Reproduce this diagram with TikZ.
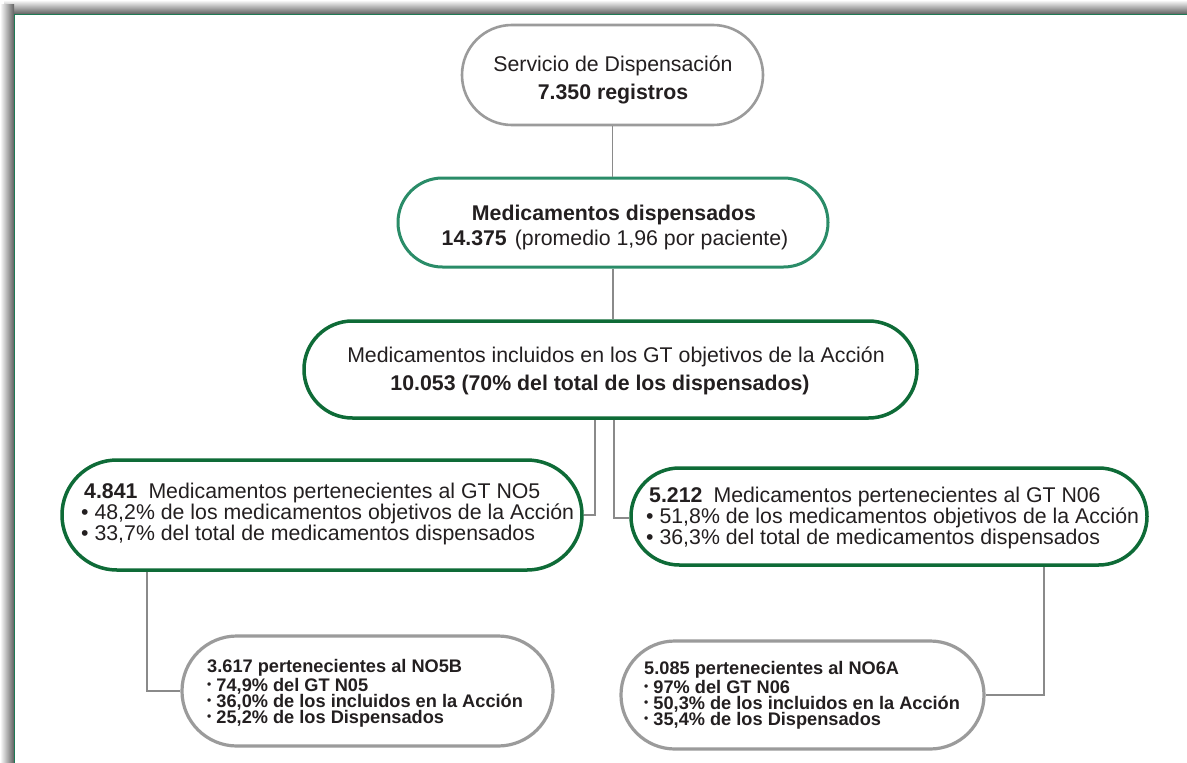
\documentclass[tikz,border=0pt]{standalone}
\usepackage{fontspec}
\setmainfont{Liberation Sans}
\definecolor{dkgreen}{HTML}{0E6B37}
\definecolor{tealgreen}{HTML}{2A8C68}
\definecolor{boxgray}{HTML}{9B9B9B}
\definecolor{conngray}{HTML}{8A8A8A}
\definecolor{framegreen}{HTML}{1E7A55}
\definecolor{txtcol}{HTML}{231F20}
\newcommand\mainf{\fontsize{21.3}{24}\selectfont}
\newcommand\smallf{\fontsize{18.2}{20}\selectfont\bfseries}
\newcommand\smdot{\raisebox{3pt}{\fontsize{12}{12}\selectfont •}}
\begin{document}
\begin{tikzpicture}[x=1pt,y=-1pt,
  graybox/.style={draw=boxgray, line width=2.6, fill=white, inner sep=0},
  tealbox/.style={draw=tealgreen, line width=3, fill=white, inner sep=0},
  greenbox/.style={draw=dkgreen, line width=3.5, fill=white, inner sep=0},
  smallbox/.style={draw=boxgray, line width=3.2, fill=white, inner sep=0},
  conn/.style={draw=conngray, line width=1.5},
  ltext/.style={inner sep=0, text=txtcol, font=\mainf},
  stext/.style={inner sep=0, text=txtcol, font=\smallf, anchor=base west}]
\useasboundingbox (0,0) rectangle (1187,763);
\fill[white] (0,0) rectangle (1187,763);
% frame shadow
\shade[top color=white, bottom color=black!62] (4,0) rectangle (1187,14);
\shade[left color=white, right color=black!62] (0,4) rectangle (14,763);
\draw[framegreen, line width=1.8] (14.5,763) -- (14.5,14.5) -- (1187,14.5);

% boxes
\node[graybox, rounded corners=49.9, minimum width=301, minimum height=100] (b1) at (612.5,75) {};
\node[tealbox, rounded corners=44.4, minimum width=430, minimum height=89] (b2) at (613,222.5) {};
\node[greenbox, rounded corners=48.4, minimum width=613, minimum height=97] (b3) at (610.5,369.5) {};
\node[greenbox, rounded corners=54.9, minimum width=520, minimum height=110] (b4) at (322,515) {};
\node[greenbox, rounded corners=48.4, minimum width=516, minimum height=97] (b5) at (889,516.5) {};
\node[smallbox, rounded corners=54.9, minimum width=371, minimum height=110] (b6) at (367.5,691) {};
\node[smallbox, rounded corners=53.9, minimum width=363, minimum height=108] (b7) at (802.5,695) {};

% connectors
\draw[conn] ([xshift=0.2]b1.south) -- ([xshift=-0.3]b2.north);
\draw[conn] (b2.south) -- ([xshift=2.5]b3.north);
\draw[conn] ([xshift=-15.5]b3.south) |- (b4.east);
\draw[conn] ([xshift=3.5]b3.south) |- ([yshift=-1.5]b5.west);
\draw[conn] ([xshift=-175]b4.south) |- (b6.west);
\draw[conn] ([xshift=155]b5.south) |- (b7.east);

% texts
\node[ltext, anchor=base] (t1a) at (613,71) {Servicio de Dispensación};
\node[ltext, anchor=base] (t1b) at (613,99) {\bfseries 7.350 registros};

\node[ltext, anchor=base] (t2a) at (614,220) {\bfseries Medicamentos dispensados};
\node[ltext, anchor=base] (t2b) at (615,245) {\textbf{14.375}\hspace{8pt}(promedio 1,96 por paciente)};

\node[ltext, anchor=base] (t3a) at (616,362) {Medicamentos incluidos en los GT objetivos de la Acción};
\node[ltext, anchor=base] (t3b) at (600,390) {\bfseries 10.053 (70\% del total de los dispensados)};

\node[ltext, anchor=base west] (t4a) at (84,498) {\textbf{4.841}\hspace{11pt}Medicamentos pertenecientes al GT NO5};
\node[ltext, anchor=base west] (t4b) at (81,519) {• 48,2\% de los medicamentos objetivos de la Acción};
\node[ltext, anchor=base west] (t4c) at (81,540) {• 33,7\% del total de medicamentos dispensados};

\node[ltext, anchor=base west] (t5a) at (649,502) {\textbf{5.212}\hspace{11pt}Medicamentos pertenecientes al GT N06};
\node[ltext, anchor=base west] (t5b) at (646,523) {• 51,8\% de los medicamentos objetivos de la Acción};
\node[ltext, anchor=base west] (t5c) at (646,544) {• 36,3\% del total de medicamentos dispensados};

\node[stext] (t6a) at (207,672) {3.617 pertenecientes al NO5B};
\node[stext] (t6b) at (207,691.5) {\smdot\ 74,9\% del GT N05};
\node[stext] (t6c) at (207,707.5) {\smdot\ 36,0\% de los incluidos en la Acción};
\node[stext] (t6d) at (207,723.5) {\smdot\ 25,2\% de los Dispensados};

\node[stext] (t7a) at (644,674) {5.085 pertenecientes al NO6A};
\node[stext] (t7b) at (644,693.5) {\smdot\ 97\% del GT N06};
\node[stext] (t7c) at (644,709.5) {\smdot\ 50,3\% de los incluidos en la Acción};
\node[stext] (t7d) at (644,725.5) {\smdot\ 35,4\% de los Dispensados};
\end{tikzpicture}
\end{document}
